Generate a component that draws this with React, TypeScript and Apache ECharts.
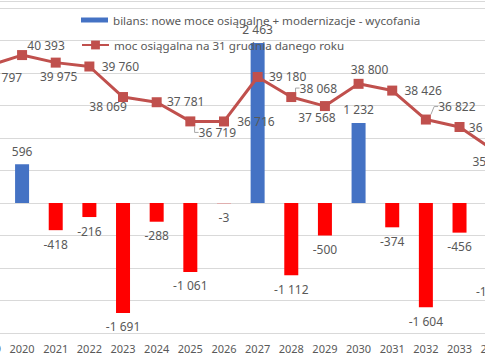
import React, { useEffect, useRef } from "react";
import * as echarts from "echarts";

const years = ["2019", "2020", "2021", "2022", "2023", "2024", "2025", "2026", "2027", "2028", "2029", "2030", "2031", "2032", "2033", "2034"];
const balance: (number | null)[] = [null, 596, -418, -216, -1691, -288, -1061, -3, 2463, -1112, -500, 1232, -374, -1604, -456, -1150];
const capacity = [39797, 40393, 39975, 39760, 38069, 37781, 36719, 36716, 39180, 38068, 37568, 38800, 38426, 36822, 36410, 35140];
const barName = "bilans: nowe moce osiągalne + modernizacje - wycofania";
const lineName = "moc osiągalna na 31 grudnia danego roku";

// label offsets (style) for line labels, px
const lineLabelOffsets: [number, number][] = [
  [15, 12], [24, -10], [3, 14], [31, 0], [-15, 9], [29, -1], [27, 11], [32, 0],
  [30, 0], [27, -9], [-8, 11], [11, -14], [31, 0], [31, -13], [28, 1], [-2, 12],
];
// which line labels have a leader line (style)
const leaderIdx = [6, 9, 13];

const fmt = (v: number) => {
  const s = Math.abs(Math.round(v)).toString().replace(/\B(?=(\d{3})+(?!\d))/g, " ");
  return (v < 0 ? "-" : "") + s;
};

const TEXT = "#595959";
const FONT = "Noto Sans";
const SHIFT = 40; // inner canvas is shifted left so the plot can overflow the page edges
const W = 485 + 2 * SHIFT;

export default function App() {
  const ref = useRef<HTMLDivElement>(null);
  useEffect(() => {
    document.body.style.margin = "0";
    const chart = echarts.init(ref.current!, null, { renderer: "svg" });
    chart.setOption({
      animation: false,
      backgroundColor: "#ffffff",
      textStyle: { fontFamily: FONT },
      grid: { left: SHIFT - 28.4, right: W - (510 + SHIFT), top: 8, bottom: 27, containLabel: false },
      legend: [
        {
          left: 81 + SHIFT,
          top: 14,
          padding: 0,
          orient: "vertical",
          itemWidth: 27,
          itemHeight: 5,
          data: [{ name: barName, icon: "rect" }],
          textStyle: { color: TEXT, fontSize: 11.6, fontFamily: FONT },
        },
        {
          left: 81 + SHIFT,
          top: 39,
          padding: 0,
          orient: "vertical",
          itemWidth: 27,
          itemHeight: 11,
          data: [{ name: lineName }],
          textStyle: { color: TEXT, fontSize: 11.6, fontFamily: FONT },
        },
      ],
      xAxis: {
        type: "category",
        data: years,
        axisLine: { show: false, onZero: false },
        axisTick: { show: false },
        axisLabel: { color: TEXT, fontSize: 11, fontFamily: FONT, margin: 10, interval: 0 },
      },
      yAxis: [
        {
          type: "value",
          min: -2000,
          max: 3000,
          interval: 500,
          axisLabel: { show: false },
          axisLine: { show: false },
          axisTick: { show: false },
          splitLine: { show: true, lineStyle: { color: "#D9D9D9", width: 1 } },
        },
        {
          type: "value",
          min: 25000,
          max: 43000,
          interval: 1800,
          axisLabel: { show: false },
          axisLine: { show: false },
          axisTick: { show: false },
          splitLine: { show: false },
        },
      ],
      series: [
        {
          name: barName,
          type: "bar",
          yAxisIndex: 0,
          barWidth: 14,
          itemStyle: { color: "#4472C4" },
          data: balance.map((v) => ({
            value: v,
            itemStyle: { color: v !== null && v > 0 ? "#4472C4" : "#FF0000" },
            label: {
              show: v !== null,
              position: v !== null && v > 0 ? "top" : "bottom",
              distance: v !== null && v > 0 ? 7 : 8,
            },
          })),
          label: {
            color: TEXT,
            fontSize: 12,
            fontFamily: FONT,
            formatter: (p: any) => fmt(p.value),
          },
          z: 2,
        },
        {
          name: lineName,
          type: "line",
          yAxisIndex: 1,
          symbol: "rect",
          symbolSize: 10,
          itemStyle: { color: "#C0504D" },
          lineStyle: { color: "#C0504D", width: 3 },
          data: capacity.map((v, i) => ({
            value: v,
            labelLine: leaderIdx.includes(i)
              ? { show: true, length2: 4, lineStyle: { color: "#A6A6A6", width: 1 } }
              : { show: false },
          })),
          label: {
            show: true,
            position: "inside",
            color: TEXT,
            fontSize: 12,
            fontFamily: FONT,
            formatter: (p: any) => fmt(p.value),
          },
          labelLayout: (p: any) => {
            const o = lineLabelOffsets[p.dataIndex] || [0, 0];
            return { dx: o[0], dy: o[1] };
          },
          z: 3,
        },
      ],
      graphic: [
        {
          type: "line",
          shape: { x1: SHIFT, y1: 1.5, x2: SHIFT + 485, y2: 1.5 },
          style: { stroke: "#D9D9D9", lineWidth: 1 },
        },
      ],
    });
    return () => chart.dispose();
  }, []);
  return (
    <div style={{ position: "fixed", left: 0, top: 0, width: 485, height: 360, overflow: "hidden", background: "#fff" }}>
      <div ref={ref} style={{ position: "absolute", left: -SHIFT, top: 0, width: W, height: 360 }} />
    </div>
  );
}
